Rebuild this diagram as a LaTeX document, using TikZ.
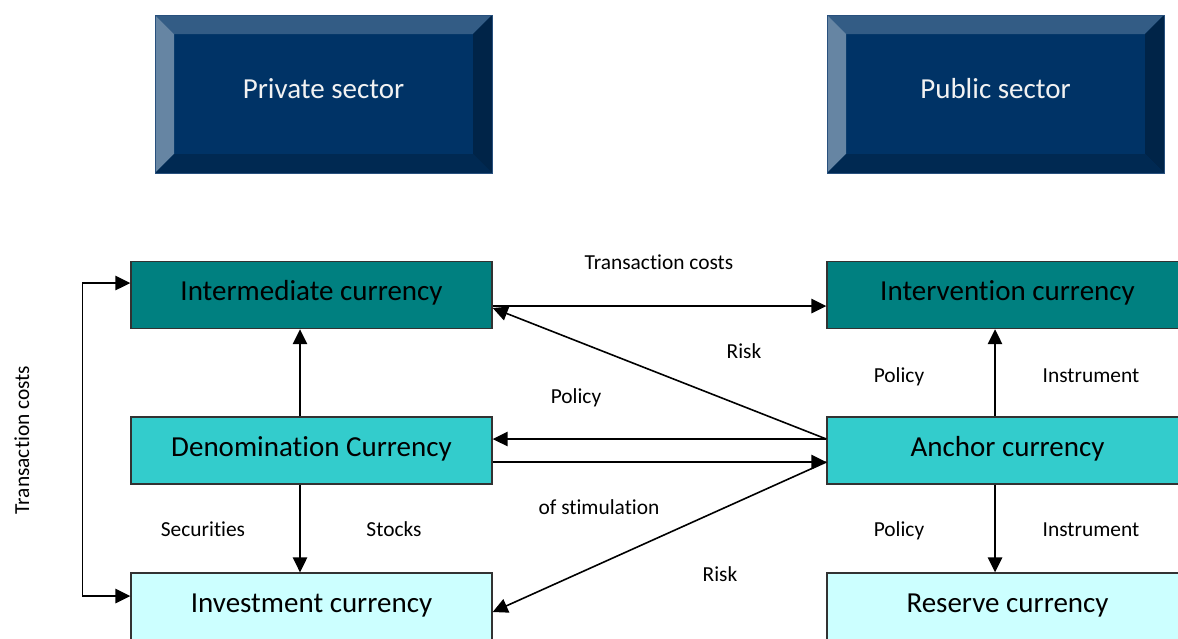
\documentclass[tikz,border=0pt]{standalone}
\usepackage{fontspec}
\setmainfont[Ligatures=NoCommon]{Carlito}
\usetikzlibrary{arrows.meta}
\definecolor{tealA}{RGB}{0,128,128}
\definecolor{tealB}{RGB}{51,204,204}
\definecolor{tealC}{RGB}{204,255,255}
\definecolor{boxline}{RGB}{50,50,50}
\definecolor{secmain}{RGB}{0,51,102}
\definecolor{secline}{RGB}{40,80,125}
\definecolor{bevT}{RGB}{51,92,133}
\definecolor{bevL}{RGB}{102,133,163}
\definecolor{bevR}{RGB}{0,36,72}
\definecolor{bevB}{RGB}{0,41,82}
\definecolor{sectext}{RGB}{242,242,242}
\newcommand\mybevel[1]{%
  \fill[bevT] (#1.north west) -- (#1.north east) -- ([xshift=-19pt,yshift=-19pt]#1.north east) -- ([xshift=19pt,yshift=-19pt]#1.north west) -- cycle;
  \fill[bevL] (#1.north west) -- ([xshift=19pt,yshift=-19pt]#1.north west) -- ([xshift=19pt,yshift=19pt]#1.south west) -- (#1.south west) -- cycle;
  \fill[bevR] (#1.north east) -- ([xshift=-19pt,yshift=-19pt]#1.north east) -- ([xshift=-19pt,yshift=19pt]#1.south east) -- (#1.south east) -- cycle;
  \fill[bevB] (#1.south west) -- ([xshift=19pt,yshift=19pt]#1.south west) -- ([xshift=-19pt,yshift=19pt]#1.south east) -- (#1.south east) -- cycle;
  \draw[secline, line width=0.8pt] (#1.north west) rectangle (#1.south east);
}
\begin{document}
\begin{tikzpicture}[x=1pt,y=-1pt,
  arr/.style={line width=1.6pt, -{Triangle[length=15pt,width=14.5pt]}},
  darr/.style={line width=1.6pt, {Triangle[length=15pt,width=14.5pt]}-{Triangle[length=15pt,width=14.5pt]}},
  cbox/.style={draw=boxline, line width=1.4pt, minimum width=361pt, minimum height=67pt, inner sep=0pt,
    text height=20pt, text depth=8.6pt, font=\fontsize{29pt}{35pt}\selectfont},
  sector/.style={fill=secmain, outer sep=0pt, minimum width=337pt, minimum height=158pt, inner sep=0pt,
    text=sectext, text height=20pt, text depth=12pt, font=\fontsize{29pt}{35pt}\selectfont},
  lab/.style={anchor=base, inner sep=0pt, font=\fontsize{21.4pt}{26pt}\selectfont}
]
\clip (0,0) rectangle (1178,638);
\fill[white] (0,0) rectangle (1178,638);

% sector boxes
\node[sector] (priv) at (323.5,94) {Private sector};
\mybevel{priv}
\node[sector] (pub) at (995.5,94) {Public sector};
\mybevel{pub}

% currency boxes
\node[cbox, fill=tealA] (inter) at (311.5,295) {Intermediate currency};
\node[cbox, fill=tealB] (den) at (311.5,450.5) {Denomination Currency};
\node[cbox, fill=tealC] (inv) at (311.5,606.5) {Investment currency};
\node[cbox, fill=tealA] (interv) at (1007.5,295) {Intervention currency};
\node[cbox, fill=tealB] (anc) at (1007.5,450.5) {Anchor currency};
\node[cbox, fill=tealC] (res) at (1007.5,606.5) {Reserve currency};

\coordinate (lx) at (300,0);
\coordinate (rx) at (995,0);

% connectors
\draw[arr] (den.north -| lx) -- (inter.south -| lx);
\draw[arr] (den.south -| lx) -- (inv.north -| lx);
\draw[arr] (anc.north -| rx) -- (interv.south -| rx);
\draw[arr] (anc.south -| rx) -- (res.north -| rx);
\draw[arr] ([yshift=-11pt]inter.east) -- ([yshift=-11pt]interv.west);
\draw[arr] ([yshift=11.5pt]anc.west) -- ([yshift=11.5pt]den.east);
\draw[arr] ([yshift=-11.5pt]den.east) -- ([yshift=-11.5pt]anc.west);
\draw[arr] ([yshift=11.5pt]anc.west) -- ([yshift=-13pt]inter.east);
\draw[arr] ([yshift=-11.5pt]anc.west) -- ([yshift=-5.5pt]inv.east);
\draw[darr] ([yshift=12pt]inter.west) -- ++(-48,0) |- ([yshift=10.5pt]inv.west);

% labels
\node[lab, rotate=90] (tcv) at (29,440) {Transaction costs};
\node[lab] (tch) at (659,269) {Transaction costs};
\node[lab] (risk1) at (744,358) {Risk};
\node[lab] (pol1) at (576,403) {Policy};
\node[lab] (pol2) at (899,382) {Policy};
\node[lab] (ins1) at (1091,382) {Instrument};
\node[lab] (stim) at (599,514) {of stimulation};
\node[lab] (pol3) at (899,536) {Policy};
\node[lab] (ins2) at (1091,536) {Instrument};
\node[lab] (risk2) at (720,581) {Risk};
\node[lab] (sec) at (203,536) {Securities};
\node[lab] (stk) at (394,536) {Stocks};
\end{tikzpicture}
\end{document}
